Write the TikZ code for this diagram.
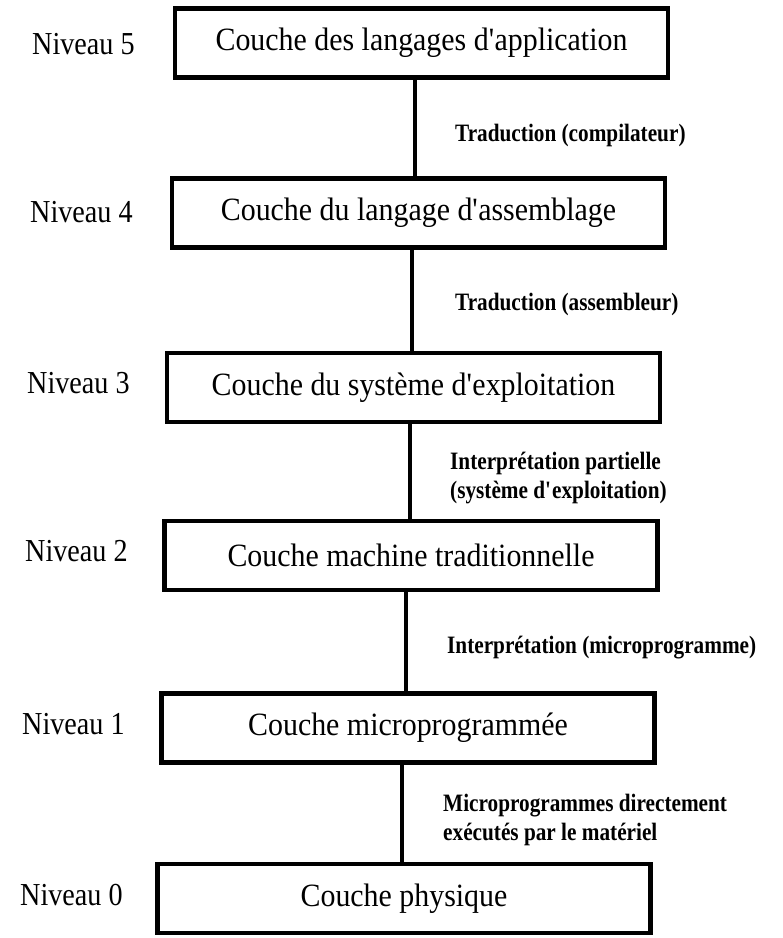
\documentclass[tikz,border=0pt]{standalone}
\usepackage{fontspec}
\setmainfont{Liberation Serif}
\newfontfamily\boxfont[FakeStretch=0.92]{Liberation Serif}
\newfontfamily\niveaufont[FakeStretch=0.88]{Liberation Serif}
\newfontfamily\labfont[FakeStretch=0.85]{Liberation Serif}
\newcommand{\apos}{\textquotesingle}
\begin{document}
\begin{tikzpicture}[x=1pt,y=-1pt,
  couche/.style={draw, line width=4.5pt, minimum width=493pt, minimum height=69pt, inner sep=0pt,
    font=\boxfont\fontsize{32.5}{36}\selectfont},
  niveau/.style={anchor=west, inner sep=0pt, font=\niveaufont\fontsize{32}{36}\selectfont},
  lien/.style={line width=3.5pt},
  etiq/.style={anchor=west, inner sep=0pt, align=left, font=\labfont\bfseries\fontsize{25}{29}\selectfont}]
\useasboundingbox (0,0) rectangle (783,938);
% boxes
\node[couche] (b5) at (421.5,43) {Couche des langages d\apos application};
\node[couche] (b4) at (418.5,213) {Couche du langage d\apos assemblage};
\node[couche] (b3) at (413.5,387.5) {Couche du système d\apos exploitation};
\node[couche] (b2) at (411,555.5) {Couche machine traditionnelle};
\node[couche] (b1) at (408,728) {Couche microprogrammée};
\node[couche] (b0) at (404,898.5) {Couche physique};
% level labels
\node[niveau] (n5) at (32,44) {Niveau 5};
\node[niveau] (n4) at (30,212) {Niveau 4};
\node[niveau] (n3) at (27,383) {Niveau 3};
\node[niveau] (n2) at (25,551) {Niveau 2};
\node[niveau] (n1) at (22,724) {Niveau 1};
\node[niveau] (n0) at (20,895) {Niveau 0};
% connectors
\draw[lien] ([xshift=-6.5pt]b5.south) -- ([xshift=-3.5pt]b4.north);
\draw[lien] ([xshift=-6.5pt]b4.south) -- ([xshift=-1.5pt]b3.north);
\draw[lien] ([xshift=-3.5pt]b3.south) -- ([xshift=-1pt]b2.north);
\draw[lien] ([xshift=-5pt]b2.south) -- ([xshift=-2pt]b1.north);
\draw[lien] ([xshift=-6pt]b1.south) -- ([xshift=-2pt]b0.north);
% connector labels
\node[etiq] (t54) at (455,135) {Traduction (compilateur)};
\node[etiq] (t43) at (455,304) {Traduction (assembleur)};
\node[etiq] (t32) at (450,478) {Interprétation partielle\\(système d\apos exploitation)};
\node[etiq] (t21) at (447,648) {Interprétation (microprogramme)};
\node[etiq] (t10) at (443,820) {Microprogrammes directement\\exécutés par le matériel};
\end{tikzpicture}
\end{document}
